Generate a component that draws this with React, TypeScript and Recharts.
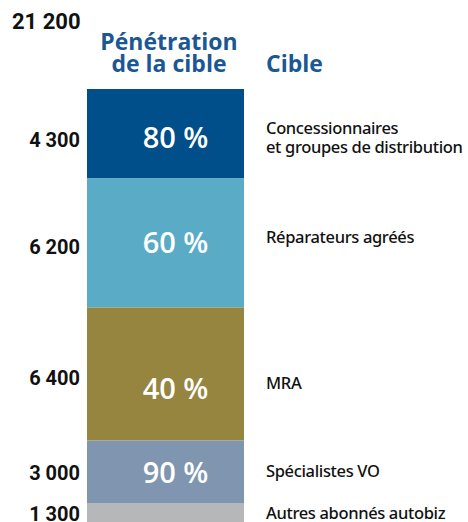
import React from 'react';
import { BarChart, Bar, XAxis, YAxis, LabelList, Customized } from 'recharts';

const categories = ['Concessionnaires\net groupes de distribution', 'Réparateurs agréés', 'MRA', 'Spécialistes VO', 'Autres abonnés autobiz'];
const counts = [4300, 6200, 6400, 3000, 1300];
const countLabels = ['4 300', '6 200', '6 400', '3 000', '1 300'];
const penetration = ['80 %', '60 %', '40 %', '90 %', ''];
const colors = ['#004f8a', '#5aabc6', '#96853f', '#7f95b0', '#b6b7b9'];
const totalLabel = '21 200';
const total = 21200;
const headerLeft = ['Pénétration', 'de la cible'];
const headerRight = 'Cible';

const row: Record<string, number | string> = { name: 'all' };
counts.forEach((c, i) => { row['s' + i] = c; });
const data = [row];

// small hand-placement tweaks of the labels relative to each segment centre (px)
const countDy = [6, 4, 4, 1, -2];
const pctDy = [4, 0, 15, 1, 0];
const catDy = [4, -6, 9, -1, -3];

const NUM_FONT = 'Roboto, sans-serif';
const LBL_FONT = '"Noto Sans", sans-serif';
const PCT_FONT = '"Open Sans", sans-serif';

const makeLabel = (i: number) => (props: any) => {
  const { x, y, width, height } = props;
  const cy = y + height / 2;
  const lines = categories[i].split('\n');
  const pct = penetration[i];
  return (
    <g>
      <text x={x - 7} y={cy + countDy[i] + 7} textAnchor="end" fontFamily={NUM_FONT} fontWeight={700} fontSize={20} fill="#111">
        {countLabels[i]}
      </text>
      {pct && (
        <text x={x + width / 2 + 10} y={cy + pctDy[i] + 10} textAnchor="middle" fontFamily={PCT_FONT} fontWeight={600} fontSize={29} fill="#fff">
          {pct}
        </text>
      )}
      {lines.map((l, k) => (
        <text key={k} x={x + width + 22} y={cy + catDy[i] + 6 + (k - (lines.length - 1) / 2) * 19} fontFamily={LBL_FONT} fontWeight={500} fontSize={16.5} letterSpacing={-0.35} fill="#111">
          {l}
        </text>
      ))}
    </g>
  );
};

const Headers = () => (
  <g>
    <text x={12} y={29} fontFamily={NUM_FONT} fontWeight={700} fontSize={22} fill="#111">{totalLabel}</text>
    <text x={169} y={50} textAnchor="middle" fontFamily={PCT_FONT} fontWeight={700} fontSize={23} fill="#1b5794">{headerLeft[0]}</text>
    <text x={169} y={72} textAnchor="middle" fontFamily={PCT_FONT} fontWeight={700} fontSize={23} fill="#1b5794">{headerLeft[1]}</text>
    <text x={266} y={72} fontFamily={PCT_FONT} fontWeight={700} fontSize={23} fill="#1b5794">{headerRight}</text>
  </g>
);

export default function App() {
  return (
    <div style={{ position: 'fixed', left: 0, top: 0, width: 468, height: 522, overflow: 'hidden', background: '#fff' }}>
      <BarChart width={468} height={530} data={data} margin={{ top: 89, right: 224, bottom: 0, left: 87 }} barCategoryGap={0}>
        <XAxis dataKey="name" hide />
        <YAxis hide reversed domain={[0, total]} />
        {counts.map((_, i) => (
          <Bar key={i} dataKey={'s' + i} stackId="a" fill={colors[i]} isAnimationActive={false}>
            <LabelList dataKey={'s' + i} content={makeLabel(i)} />
          </Bar>
        ))}
        <Customized component={Headers} />
      </BarChart>
    </div>
  );
}
